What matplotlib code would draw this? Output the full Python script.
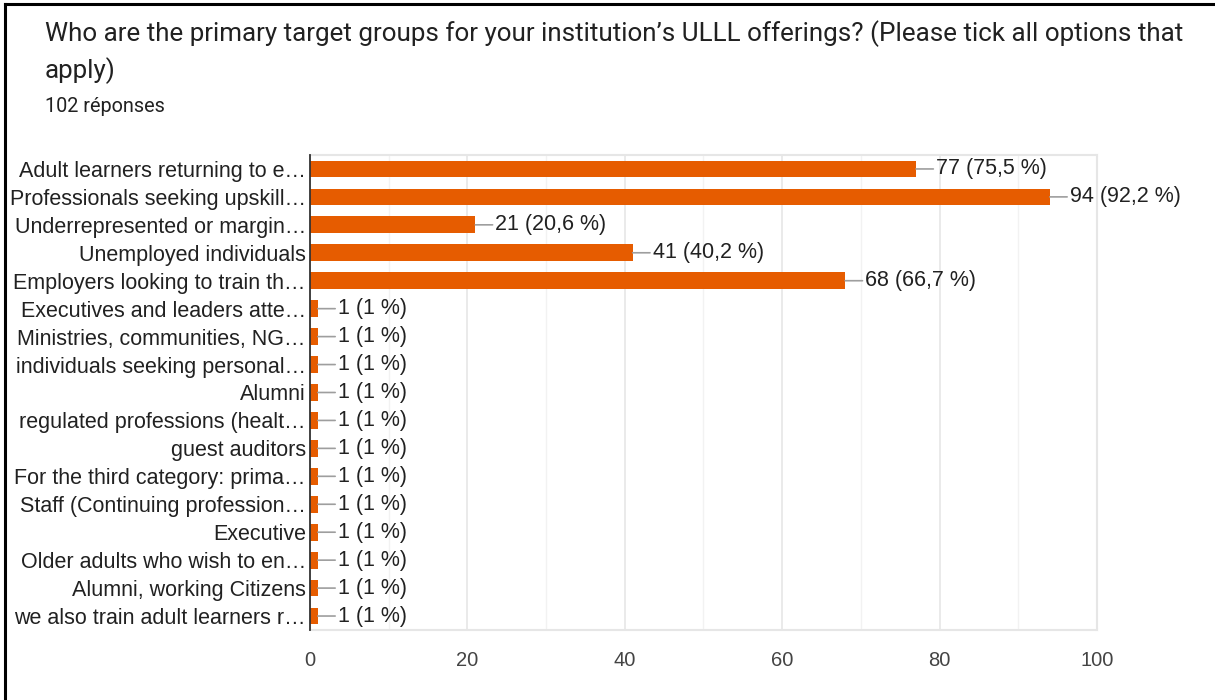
import matplotlib.pyplot as plt
from matplotlib.ticker import MultipleLocator
from matplotlib.lines import Line2D

plt.rcParams['font.family'] = ['Liberation Sans', 'DejaVu Sans']

title1 = "Who are the primary target groups for your institution’s ULLL offerings? (Please tick all options that"
title2 = "apply)"
subtitle = "102 réponses"

labels = [
    "Adult learners returning to e…",
    "Professionals seeking upskill…",
    "Underrepresented or margin…",
    "Unemployed individuals",
    "Employers looking to train th…",
    "Executives and leaders atte…",
    "Ministries, communities, NG…",
    "individuals seeking personal…",
    "Alumni",
    "regulated professions (healt…",
    "guest auditors",
    "For the third category: prima…",
    "Staff (Continuing profession…",
    "Executive",
    "Older adults who wish to en…",
    "Alumni, working Citizens",
    "we also train adult learners r…",
]
counts = [77, 94, 21, 41, 68, 1, 1, 1, 1, 1, 1, 1, 1, 1, 1, 1, 1]
pcts = ["75,5", "92,2", "20,6", "40,2", "66,7"] + ["1"] * 12

fig = plt.figure(figsize=(12.15, 7), dpi=100)
ax = fig.add_axes([0.2551, 0.1, 0.6478, 0.6786])

y = list(range(len(labels)))
ax.barh(y, counts, height=0.6, color='#e65c00', zorder=3)

for yi, c, p in zip(y, counts, pcts):
    ax.annotate(f"{c} ({p} %)", xy=(c, yi), xytext=(14.5, 0), textcoords='offset points',
                ha='left', va='center', fontsize=15.5, color='#212121',
                arrowprops=dict(arrowstyle='-', color='#9e9e9e', lw=1.2, shrinkA=0, shrinkB=0))

ax.set_xlim(0, 100)
ax.set_ylim(len(labels) - 0.5, -0.5)
ax.set_yticks(y)
ax.set_yticklabels(labels, fontsize=15.5, color='#212121')
ax.xaxis.set_major_locator(MultipleLocator(20))
ax.xaxis.set_minor_locator(MultipleLocator(10))
ax.tick_params(axis='x', which='both', length=0, labelsize=14.5, labelcolor='#444444', pad=15)
ax.tick_params(axis='y', length=0, pad=3)
ax.grid(axis='x', which='major', color='#e6e6e6', lw=1.2, zorder=0)
ax.grid(axis='x', which='minor', color='#f2f2f2', lw=1.0, zorder=0)
for s in ['top', 'right', 'bottom']:
    ax.spines[s].set_color('#e6e6e6')
    ax.spines[s].set_linewidth(1.5)
ax.spines['left'].set_color('#333333')
ax.spines['left'].set_linewidth(1.3)
ax.spines['left'].set_zorder(4)

fig.text(45 / 1215, 1 - 34 / 700, title1, fontsize=18.7, color='#212121', va='center',
         family=['Roboto', 'DejaVu Sans'])
fig.text(45 / 1215, 1 - 71 / 700, title2, fontsize=18.7, color='#212121', va='center',
         family=['Roboto', 'DejaVu Sans'])
fig.text(45 / 1215, 1 - 107 / 700, subtitle, fontsize=14.3, color='#212121', va='center',
         family=['Roboto', 'DejaVu Sans'])

# outer frame (left and top edges)
fig.add_artist(Line2D([5 / 1215, 5 / 1215], [0, 1 - 4 / 700], color='black', lw=2.2, transform=fig.transFigure))
fig.add_artist(Line2D([5 / 1215, 1], [1 - 4 / 700, 1 - 4 / 700], color='black', lw=2.2, transform=fig.transFigure))

fig.savefig('out.png', dpi=100)
